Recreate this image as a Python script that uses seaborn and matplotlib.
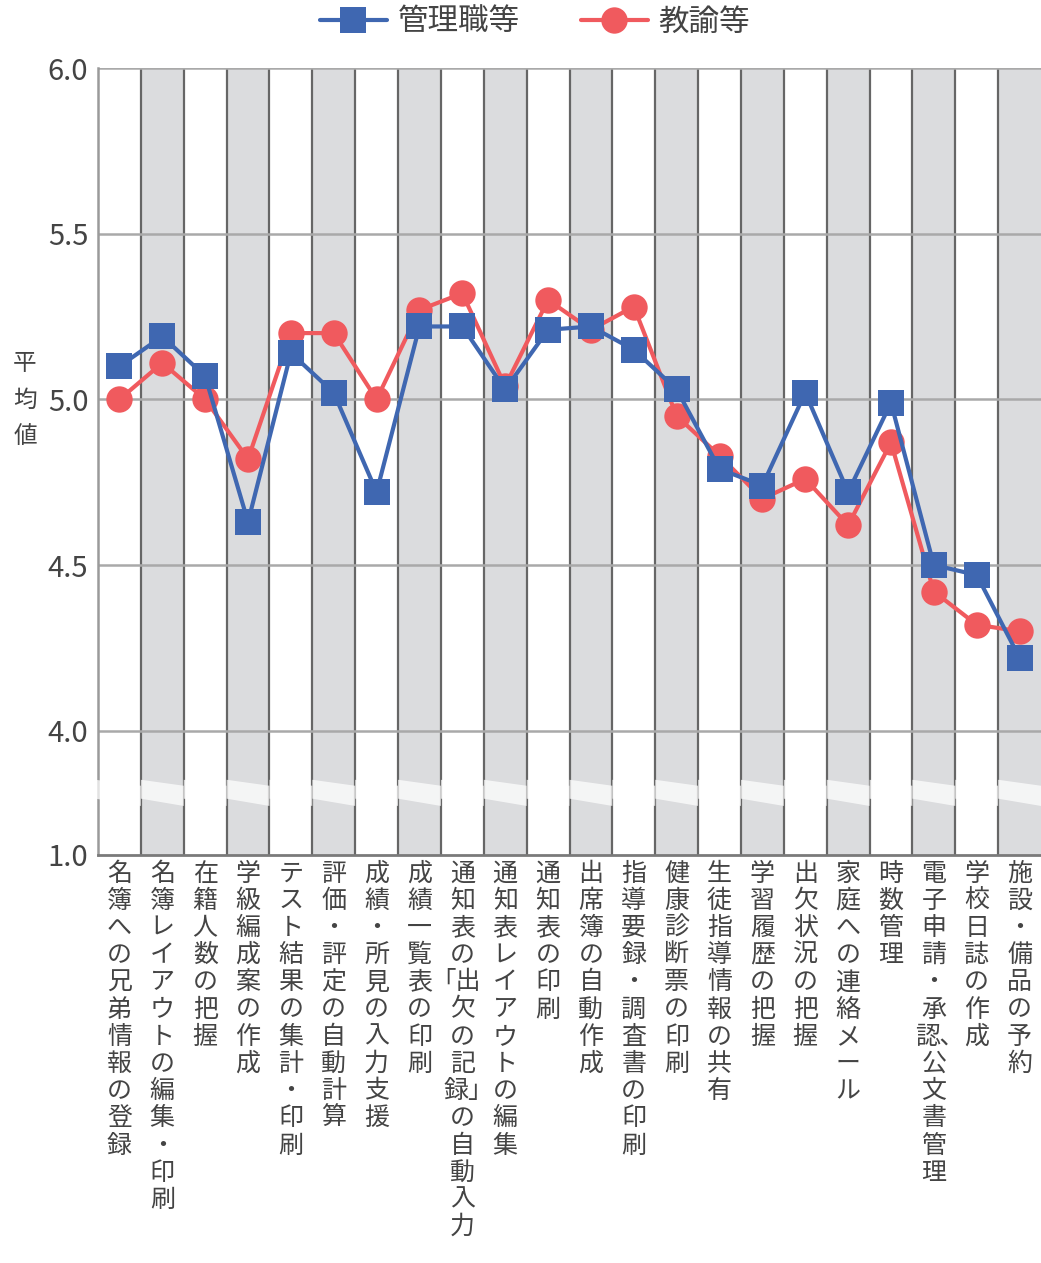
import matplotlib
matplotlib.use("Agg")
import matplotlib.pyplot as plt
from matplotlib.patches import Polygon
from matplotlib.lines import Line2D
import numpy as np
import pandas as pd
import seaborn as sns

# --- data -----------------------------------------------------------------
categories = [
    "名簿への兄弟情報の登録", "名簿レイアウトの編集・印刷", "在籍人数の把握",
    "学級編成案の作成", "テスト結果の集計・印刷", "評価・評定の自動計算",
    "成績・所見の入力支援", "成績一覧表の印刷", "通知表の「出欠の記録」の自動入力",
    "通知表レイアウトの編集", "通知表の印刷", "出席簿の自動作成",
    "指導要録・調査書の印刷", "健康診断票の印刷", "生徒指導情報の共有",
    "学習履歴の把握", "出欠状況の把握", "家庭への連絡メール", "時数管理",
    "電子申請・承認、公文書管理", "学校日誌の作成", "施設・備品の予約",
]
kanri = [5.10, 5.19, 5.07, 4.63, 5.14, 5.02, 4.72, 5.22, 5.22, 5.03, 5.21,
         5.22, 5.15, 5.03, 4.79, 4.74, 5.02, 4.72, 4.99, 4.50, 4.47, 4.22]
kyoyu = [5.00, 5.11, 5.00, 4.82, 5.20, 5.20, 5.00, 5.27, 5.32, 5.04, 5.30,
         5.21, 5.28, 4.95, 4.83, 4.70, 4.76, 4.62, 4.87, 4.42, 4.32, 4.30]
series_names = ["管理職等", "教諭等"]
y_ticks = [4.0, 4.5, 5.0, 5.5, 6.0]
y_tick_labels = ["4.0", "4.5", "5.0", "5.5", "6.0"]
axis_floor_label = "1.0"
y_title = "平均値"


def vertical(text):
    """Stack a label one character per line; brackets and the comma share
    the cell of the neighbouring character as in vertical typesetting."""
    text = text.replace("「", "｢").replace("」", "｣").replace("、", "､")
    cells = []
    for ch in text:
        if cells and ch in "｣､":
            cells[-1] += ch
        elif cells and cells[-1] == "｢":
            cells[-1] += ch
        else:
            cells.append(ch)
    return "\n".join(cells)


# --- style ----------------------------------------------------------------
sns.set_theme(style="white")
plt.rcParams["font.family"] = ["Noto Sans CJK JP", "DejaVu Sans"]

BLUE = "#3F67B1"
RED = "#F05A5E"
SHADE = "#DBDCDE"
TEXT = "#444444"

# compressed section between 1.0 and 4.0 on the broken axis
Y_FLOOR = 3.625

W, H = 1041, 1263
fig = plt.figure(figsize=(W / 100, H / 100), dpi=100)
ax = fig.add_axes([98 / W, 1 - 855 / H, (1041 - 98) / W, (855 - 68) / H])

n = len(categories)
idx = np.arange(n)

df = pd.DataFrame({
    "pos": np.concatenate([idx, idx]),
    "value": kanri + kyoyu,
    "group": [series_names[0]] * n + [series_names[1]] * n,
})

# alternating column shading and column separators
for i in idx:
    if i % 2 == 1:
        ax.axvspan(i - 0.5, i + 0.5, color=SHADE, zorder=0, lw=0)
for i in idx[:-1]:
    ax.axvline(i + 0.5, color="#666666", lw=1.6, zorder=1)

# horizontal grid
for t in y_ticks:
    ax.axhline(t, color="#a9a9a9", lw=1.8, zorder=1.2)

# axis break band, slanted inside each column
for i in idx:
    x0, x1 = i - 0.5, i + 0.5
    if i == 0:
        x0 -= 0.06
    poly = Polygon([(x0, 3.852), (x1, 3.834), (x1, 3.773), (x0, 3.795)],
                   closed=True, facecolor="white", alpha=0.72, lw=0,
                   zorder=3, clip_on=False)
    ax.add_patch(poly)

# series (teachers first so the administrators' line sits on top)
styles = {series_names[0]: (BLUE, "s", 19), series_names[1]: (RED, "o", 19)}
for name in [series_names[1], series_names[0]]:
    sub = df[df["group"] == name]
    color, marker, ms = styles[name]
    sns.lineplot(data=sub, x="pos", y="value", ax=ax, color=color, lw=3,
                 marker=marker, markersize=ms, markeredgewidth=0,
                 sort=False, zorder=4, legend=False)

ax.set_xlim(-0.5, n - 0.5)
ax.set_ylim(Y_FLOOR, 6.0)
ax.set_xlabel("")
ax.set_ylabel("")

ax.set_yticks([Y_FLOOR] + y_ticks)
ax.set_yticklabels([axis_floor_label] + y_tick_labels)
ax.tick_params(axis="y", length=0, pad=7, labelsize=21, labelcolor=TEXT)

ax.set_xticks(idx)
ax.set_xticklabels([vertical(c) for c in categories], linespacing=1.06)
ax.tick_params(axis="x", length=0, pad=4, labelsize=18, labelcolor=TEXT)

for side in ["top", "right"]:
    ax.spines[side].set_visible(False)
ax.spines["left"].set_color("#9a9a9a")
ax.spines["left"].set_linewidth(1.8)
ax.spines["bottom"].set_color("#7a7a7a")
ax.spines["bottom"].set_linewidth(2)

fig.text(25 / W, 1 - 400 / H, "\n".join(y_title), ha="center", va="center",
         fontsize=17, color=TEXT, linespacing=1.75)

handles = [
    Line2D([], [], color=BLUE, lw=3, marker="s", markersize=19, markeredgewidth=0),
    Line2D([], [], color=RED, lw=3, marker="o", markersize=19, markeredgewidth=0),
]
fig.legend(handles, series_names, loc="center", ncol=2, frameon=False,
           bbox_to_anchor=(535 / W, 1 - 22 / H), fontsize=22,
           handlelength=2.2, handletextpad=0.35, columnspacing=2.0,
           labelcolor=TEXT)

fig.savefig("out.png", dpi=100)
